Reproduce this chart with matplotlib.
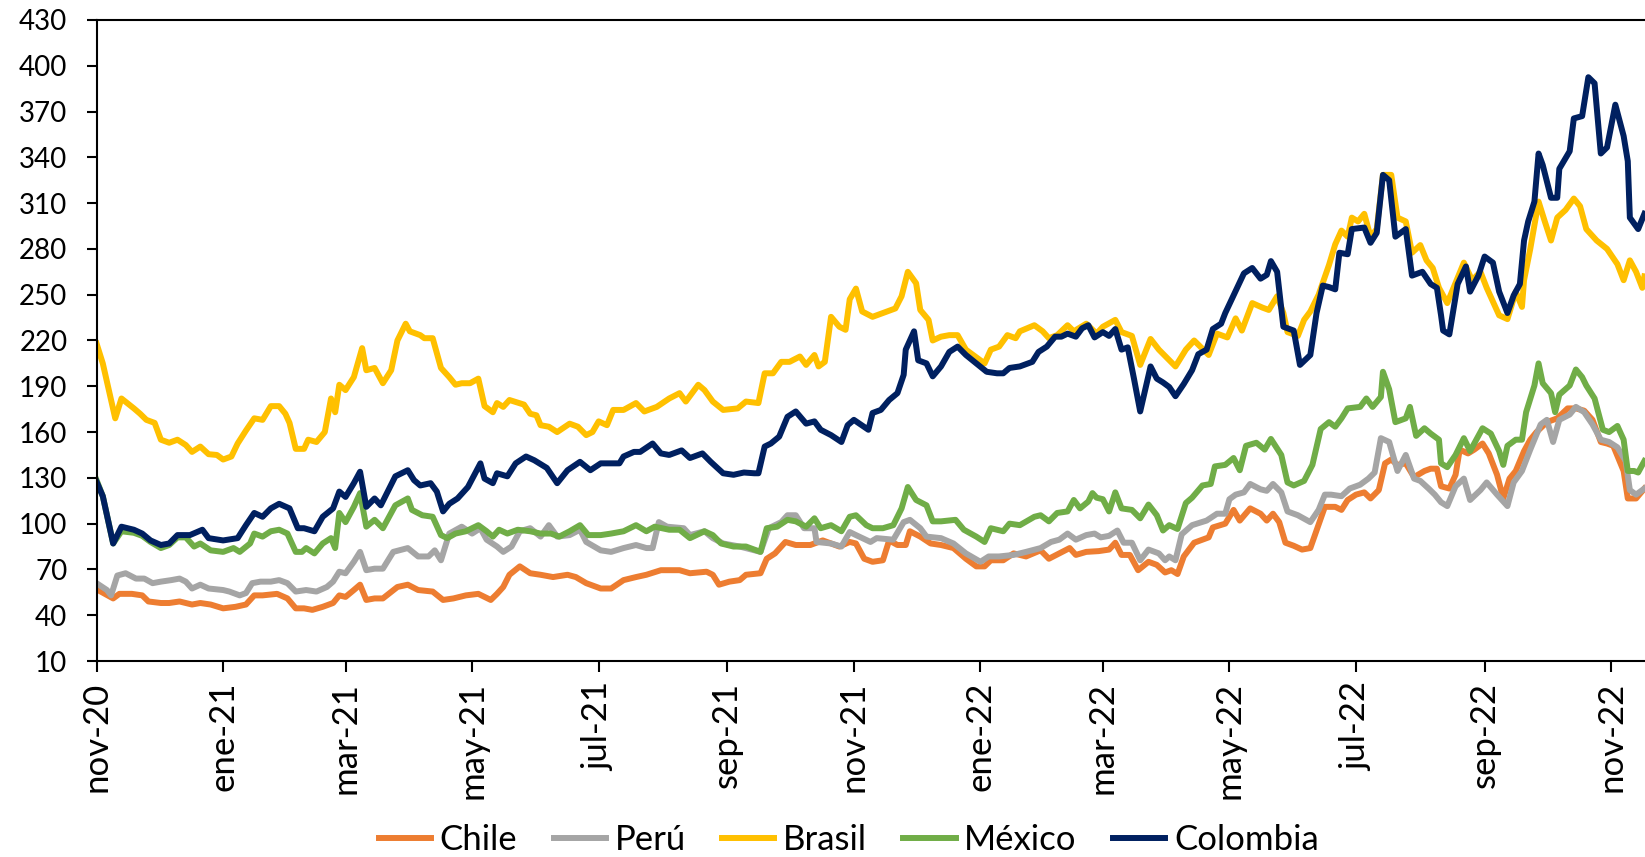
import pandas as pd
import matplotlib
matplotlib.use("Agg")
import matplotlib.pyplot as plt

plt.rcParams['font.family'] = ['Lato', 'DejaVu Sans']

# dias desde el 1-nov-2020 y valor
inicio = pd.Timestamp("2020-11-01")

chile_dias = [0, 8, 11, 17, 22, 25, 31, 35, 40, 46, 50, 55, 61, 67, 72, 76, 80, 87, 92, 96, 100, 104, 109, 114, 117, 120,
              124, 127, 130, 134, 138, 145, 150, 155, 162, 167, 172, 178, 184, 190, 193, 196, 199, 204, 209, 214, 220, 227, 231, 236,
              243, 248, 254, 260, 265, 272, 276, 281, 286, 294, 297, 300, 305, 310, 313, 320, 323, 327, 332, 337, 344, 350, 358, 363,
              366, 370, 374, 379, 382, 386, 390, 392, 397, 402, 407, 413, 419, 424, 428, 431, 437, 442, 448, 455, 459, 464, 469, 472, 477,
              483, 488, 491, 494, 498, 502, 507, 511, 515, 518, 521, 524, 529, 536, 538, 544, 548, 551, 556, 561, 564, 567, 570, 573,
              577, 581, 585, 588, 592, 597, 600, 603, 607, 611, 614, 618, 621, 624, 627, 631, 635, 640, 643, 646, 648, 652, 655, 657,
              661, 664, 668, 671, 675, 678, 681, 684, 688, 691, 694, 699, 704, 709, 713, 717, 721, 725, 728, 731, 736, 738, 742, 746]
chile_vals = [57, 51, 54, 54, 53, 49, 48, 48, 49, 47, 48, 47, 44.5, 45.5, 47, 53, 53, 54, 51, 44.5, 44.5, 43.5, 45.5, 48, 53, 52,
              56.5, 60, 50, 51, 51, 58.5, 60, 56.5, 55.5, 50, 51, 53, 54, 50, 54, 58.5, 66.5, 72, 67.5, 66.5, 65, 66.5, 65, 61,
              57.5, 57.5, 63, 65, 66.5, 69.5, 69.5, 69.5, 67.5, 68.5, 66.5, 60, 62, 63, 66.5, 67.5, 77, 80.5, 88, 86, 86, 89, 85, 88,
              87, 77, 75, 76, 89, 86, 86, 95, 91.5, 87, 86, 84, 77, 72, 72, 76, 76, 80.5, 78.5, 82.5, 77, 80.5, 84, 79.5, 81.5,
              82, 83, 87.5, 79.5, 79.5, 69.5, 75, 73, 68, 69.5, 67, 78.5, 87.5, 91, 97.5, 100, 109, 102, 110, 106.5, 102, 106.5, 101, 87.5,
              85.5, 83, 84, 95.5, 111, 111, 109, 115.5, 119, 120.5, 116.5, 122, 139.5, 142, 138.5, 139.5, 130.5, 134.5, 136, 136, 124.5, 123, 132, 148.5,
              146, 148.5, 152.5, 146, 132, 116.5, 129.5, 134.5, 147.5, 155, 160, 166.5, 169, 175.5, 175.5, 174, 168, 153.5, 152.5, 151, 134.5, 116.5, 116.5, 123]

peru_dias = [0, 5, 7, 10, 14, 19, 23, 27, 31, 36, 40, 43, 46, 50, 54, 61, 64, 69, 72, 75, 79, 84, 88, 92, 96, 101, 106, 111, 114, 117, 120,
             124, 127, 130, 134, 138, 143, 150, 155, 160, 163, 166, 170, 176, 181, 185, 188, 193, 196, 200, 204, 209, 214, 218, 222, 228, 233, 236,
             243, 248, 254, 260, 265, 268, 271, 275, 283, 286, 293, 297, 302, 310, 320, 324, 330, 333, 337, 341, 346, 347, 354, 359, 363,
             366, 373, 376, 384, 389, 392, 397, 400, 407, 413, 419, 426, 430, 435, 442, 448, 455, 460, 464, 468, 472, 477, 481,
             484, 488, 492, 495, 499, 503, 507, 512, 515, 517, 520, 523, 528, 535, 540, 544, 546, 549, 553, 556, 561, 564, 567, 571, 574,
             579, 585, 589, 592, 595, 600, 604, 609, 613, 616, 619, 623, 627, 631, 635, 638, 642, 645, 648, 651, 655, 659, 662, 667,
             670, 675, 680, 683, 687, 691, 696, 699, 702, 705, 710, 713, 717, 721, 725, 729, 733, 737, 739, 742, 746]
peru_vals = [61, 56.5, 53, 66, 67.5, 64, 64, 61, 62, 63, 64, 62, 57.5, 60, 57.5, 56.5, 55.5, 53, 54.5, 61, 62, 62, 63, 61, 55.5, 56.5, 55.5, 58.5, 62, 68.5, 67.5,
             75, 81.5, 69.5, 70.5, 70.5, 81.5, 84, 78.5, 78.5, 82.5, 76, 93.5, 98, 93.5, 97, 89.5, 85, 81.5, 85, 95, 97, 91.5, 99, 91.5, 92.5, 96, 88,
             82.5, 81.5, 84, 86, 84, 84, 101, 98, 97, 92.5, 95, 90.5, 87, 85, 81.5, 97, 101, 105.5, 105.5, 97, 97, 88, 87, 85, 94.5,
             92.5, 88, 90.5, 89.5, 101, 102.5, 97, 91.5, 90.5, 87, 80.5, 75, 78.5, 78.5, 79.5, 81.5, 84, 88, 89.5, 93.5, 89.5, 92.5, 93.5,
             91, 92, 95.5, 87.5, 87.5, 76, 83, 80.5, 76, 78.5, 76, 93, 99, 102, 106.5, 106.5, 116, 119, 120.5, 126, 122.5, 121.5, 126, 120.5, 108,
             105.5, 101, 109, 119, 119, 118, 123, 125.5, 129.5, 133.5, 156, 153.5, 134.5, 145, 129.5, 128, 123, 119, 114, 111.5, 124.5, 129.5, 115.5, 122,
             127, 119, 111.5, 127, 134.5, 148.5, 165, 168, 153.5, 168, 171.5, 176.5, 173, 165, 155, 153.5, 150, 141, 122, 119, 123]

brasil_dias = [0, 3, 9, 12, 18, 21, 24, 28, 31, 35, 39, 43, 46, 50, 54, 58, 61, 65, 68, 72, 76, 80, 84, 88, 91, 93, 96, 100, 102, 106, 110,
               113, 115, 117, 120, 124, 128, 130, 134, 138, 142, 145, 149, 151, 156, 158, 162, 166, 170, 173, 176, 180, 184, 187, 191, 193,
               196, 199, 206, 209, 212, 214, 218, 222, 228, 232, 236, 239, 242, 246, 249, 254, 260, 264, 270, 276, 281, 284, 290, 293, 297,
               302, 309, 313, 319, 322, 326, 330, 334, 339, 342, 346, 348, 351, 354, 358, 361, 363, 366, 369, 374, 379, 385, 388, 391, 395,
               397, 401, 403, 407, 411, 415, 419, 428, 431, 435, 439, 443, 445, 452, 456, 459, 463, 468, 471, 477, 482, 485, 491, 494, 499,
               503, 508, 512, 516, 520, 525, 529, 536, 540, 545, 549, 552, 557, 562, 565, 569, 572, 574, 579, 582, 585, 589, 594, 597, 600,
               603, 605, 608, 611, 614, 617, 620, 624, 627, 631, 634, 638, 641, 644, 647, 651, 654, 659, 663, 667, 670, 676, 680, 684, 687,
               688, 691, 695, 698, 701, 704, 708, 712, 715, 718, 723, 728, 733, 736, 739, 742, 745, 746]
brasil_vals = [218, 205, 169, 182, 175.5, 172, 168, 166, 155, 153, 155, 151.5, 147, 150.5, 145.5, 145, 142, 144, 152.5, 161, 169, 168, 177, 177, 172, 166, 149, 149, 155, 153.5, 160,
               182, 173, 191, 187.5, 196, 215, 200.5, 202, 192, 200.5, 220, 231, 226, 223.5, 221.5, 221.5, 202, 196, 191, 192, 192, 195, 177, 173, 179,
               176.5, 181, 178, 172, 171, 164.5, 163.5, 160, 165.5, 163.5, 158, 160, 167, 164.5, 174.5, 174.5, 179, 173.5, 176.5, 182, 185.5, 180, 191, 187.5, 180,
               174.5, 175.5, 180, 179, 198.5, 198.5, 206, 206, 209.5, 204, 210.5, 203, 206, 235.5, 229, 227, 247, 254, 239, 235.5, 238, 241, 249, 265, 257.5,
               240, 233.5, 220, 222.5, 223.5, 223.5, 214, 205, 214, 216, 223.5, 221.5, 226, 230, 226, 221.5, 223.5, 230, 226, 231, 224.5, 229, 233.5, 225.5, 223,
               204, 221, 214, 208.5, 203, 214, 220, 210.5, 224.5, 222, 234.5, 226.5, 244.5, 241.5, 240, 249, 238, 225.5, 223, 233.5, 239, 250, 269.5, 283, 292,
               288, 300.5, 298, 303, 288, 293, 328.5, 328.5, 300.5, 298, 277.5, 282.5, 272.5, 267.5, 254.5, 244.5, 254.5, 271, 259.5, 265, 254.5, 236.5, 234, 252, 242,
               259.5, 280, 311, 298, 285.5, 300.5, 305.5, 313, 308, 293, 285.5, 280, 270, 259.5, 272.5, 265, 254.5, 262]

mexico_dias = [0, 3, 8, 12, 18, 22, 26, 31, 35, 39, 43, 47, 50, 55, 61, 66, 69, 74, 76, 80, 84, 88, 92, 96, 99, 101, 105, 109, 113, 115, 117, 120,
               124, 127, 130, 134, 138, 144, 150, 152, 157, 162, 166, 169, 173, 178, 184, 188, 191, 194, 198, 203, 209, 214, 219, 223, 228, 233, 237,
               243, 248, 254, 260, 265, 269, 276, 281, 286, 293, 297, 301, 307, 313, 320, 323, 328, 333, 337, 342, 346, 349, 354, 359, 363,
               366, 371, 374, 379, 384, 388, 391, 395, 400, 403, 407, 414, 418, 424, 428, 431, 437, 440, 445, 452, 455, 459, 463, 468, 471, 474, 478, 480,
               482, 485, 488, 491, 494, 499, 503, 507, 511, 514, 517, 521, 525, 528, 533, 537, 539, 544, 548, 551, 554, 559, 563, 566, 571, 574,
               577, 582, 586, 590, 594, 597, 600, 603, 609, 612, 615, 619, 620, 623, 626, 631, 633, 636, 640, 643, 647, 648, 651, 655, 659, 662,
               668, 672, 676, 678, 680, 684, 687, 689, 693, 695, 697, 701, 703, 705, 710, 713, 716, 718, 722, 726, 729, 733, 736, 738, 741, 743, 746]
mexico_vals = [128.5, 118, 87, 95, 94, 92, 88, 84, 86, 91, 91, 85, 87, 82.5, 81.5, 84, 81.5, 87, 93.5, 91.5, 95, 96, 93.5, 81.5, 81.5, 84, 80.5, 87, 90.5, 84, 107, 101,
               111, 120, 98, 102.5, 97, 112, 116.5, 109, 105.5, 104.5, 92.5, 90.5, 93.5, 95, 99, 95, 91.5, 96, 93.5, 96, 95, 93.5, 93.5, 91.5, 95, 99, 92.5,
               92.5, 93.5, 95, 99, 95, 98, 96, 96, 90.5, 95, 92.5, 87, 85, 85, 81.5, 97, 98, 102.5, 101.5, 98, 103.5, 97, 99, 95, 104.5,
               105.5, 99, 97, 97, 99, 110, 124, 115.5, 112, 101.5, 101.5, 102.5, 96, 91.5, 88, 97, 95, 100, 99, 104.5, 105.5, 101.5, 107, 108, 115.5, 110, 114.5, 120,
               117, 116, 108, 120.5, 110, 109, 103.5, 112.5, 105.5, 95.5, 99, 96.5, 113.5, 117, 125, 126, 137.5, 138.5, 143, 135, 151, 153, 148.5, 155.5, 145, 127,
               125, 128, 138.5, 162, 166.5, 163.5, 169, 175.5, 176.5, 182, 176.5, 183, 199.5, 188, 166.5, 169, 176.5, 157.5, 162.5, 159, 155, 139.5, 137, 145, 156, 147.5,
               162.5, 159, 147.5, 138.5, 151, 155, 155, 173, 190.5, 205, 192, 185.5, 173, 184.5, 190.5, 201, 196, 190.5, 182, 161.5, 160, 164, 155, 134.5, 134.5, 133.5, 141]

colombia_dias = [0, 3, 8, 12, 18, 22, 26, 31, 35, 39, 45, 51, 54, 61, 68, 72, 76, 80, 84, 88, 93, 97, 100, 105, 109, 114, 117, 120,
                 124, 127, 130, 134, 137, 144, 150, 153, 156, 161, 164, 167, 170, 174, 179, 185, 187, 191, 193, 198, 202, 207, 211, 217, 222, 227, 233, 238,
                 243, 248, 252, 254, 259, 262, 268, 272, 276, 282, 286, 292, 296, 302, 307, 312, 317, 319, 322, 325, 329, 333, 337, 342, 346, 349, 354, 359, 362,
                 365, 372, 374, 378, 382, 386, 389, 390, 394, 396, 400, 403, 407, 411, 415, 419, 424, 429, 434, 437, 440, 445, 451, 454, 458, 462, 465, 468, 472, 475, 478,
                 481, 485, 488, 491, 494, 497, 500, 503, 508, 511, 514, 517, 520, 524, 528, 531, 535, 538, 542, 544, 549, 553, 557, 561, 564, 566, 569, 572, 577, 580,
                 585, 588, 591, 594, 597, 599, 603, 605, 611, 614, 617, 620, 623, 626, 631, 634, 639, 643, 646, 648, 649, 652, 656, 660, 662, 666, 669, 673, 676, 680,
                 683, 686, 688, 690, 693, 695, 697, 701, 704, 705, 710, 712, 716, 719, 722, 725, 728, 732, 736, 738, 739, 743, 746]
colombia_vals = [127.5, 118, 87, 98, 96, 93.5, 89, 86, 87, 92.5, 92.5, 96, 90.5, 89, 90.5, 99, 107, 104.5, 110, 113, 110, 97, 97, 95, 104.5, 110, 121, 117.5,
                 126.5, 134, 111, 116.5, 112, 131, 135, 128.5, 125, 126.5, 121, 108, 113, 116.5, 124, 139.5, 129.5, 126.5, 133, 131, 139.5, 144, 141.5, 136.5, 126.5, 135, 140.5, 135,
                 139.5, 139.5, 139.5, 144, 147, 147, 152.5, 146, 145, 148, 143, 146, 140.5, 133, 132, 133.5, 133, 133, 150.5, 152.5, 157, 170, 173.5, 165.5, 167, 161.5, 158, 153.5, 164.5,
                 168, 161.5, 172.5, 174.5, 181, 185.5, 197.5, 214, 226, 207, 205, 196.5, 203, 212.5, 216, 210.5, 205, 199.5, 198.5, 198.5, 202, 203, 206, 212.5, 216, 222.5, 222.5, 224.5, 222.5, 228, 230,
                 222, 225.5, 223, 227.5, 214, 215.5, 195, 173.5, 203, 195, 192.5, 189.5, 183.5, 191.5, 200.5, 211, 214, 227.5, 231, 238, 252.5, 264, 267.5, 260.5, 263, 272, 265, 229, 226.5, 204,
                 210.5, 238, 256, 255, 253.5, 277.5, 276.5, 293, 294, 284, 290.5, 328.5, 325, 288, 293, 262.5, 265, 257, 254.5, 236.5, 226.5, 224, 257, 268.5, 252, 262.5, 275, 271, 252, 238,
                 249.5, 257, 285.5, 298, 311, 342.5, 335, 313.5, 313.5, 332.5, 344, 365.5, 367, 392.5, 388.5, 342.5, 346.5, 374.5, 354, 337.5, 300.5, 293, 303]

paises = ["Chile", "Perú", "Brasil", "México", "Colombia"]
colores = ["#ED7D31", "#A5A5A5", "#FFC000", "#70AD47", "#002060"]
dias = [chile_dias, peru_dias, brasil_dias, mexico_dias, colombia_dias]
valores = [chile_vals, peru_vals, brasil_vals, mexico_vals, colombia_vals]

tick_fechas = ["2020-11-01", "2021-01-01", "2021-03-01", "2021-05-01", "2021-07-01", "2021-09-01", "2021-11-01",
               "2022-01-01", "2022-03-01", "2022-05-01", "2022-07-01", "2022-09-01", "2022-11-01"]
tick_labels = ["nov-20", "ene-21", "mar-21", "may-21", "jul-21", "sep-21", "nov-21",
               "ene-22", "mar-22", "may-22", "jul-22", "sep-22", "nov-22"]

fig = plt.figure(figsize=(16.45, 8.57), dpi=100)
ax = fig.add_axes([0.0587, 0.2287, 0.9413, 0.748])

for nombre, d, v, c in zip(paises, dias, valores, colores):
    fechas = inicio + pd.to_timedelta(d, unit="D")
    ax.plot(fechas, v, color=c, lw=4.3, label=nombre, solid_joinstyle="round")

ax.set_xlim(inicio, inicio + pd.Timedelta(days=746.3))
ax.set_ylim(10, 430)
ax.set_yticks(range(10, 431, 30))
ax.set_xticks(pd.to_datetime(tick_fechas))
ax.set_xticklabels(tick_labels)

ax.tick_params(axis="x", labelrotation=90, labelsize=25, length=8, width=1.5, pad=7)
ax.tick_params(axis="y", labelsize=20, length=7, width=1.5, pad=14)
for s in ["left", "bottom", "top"]:
    ax.spines[s].set_linewidth(1.5)
ax.spines["right"].set_visible(False)

fig.legend(loc="center", bbox_to_anchor=(0.516, 0.02), ncol=5, frameon=False, fontsize=25,
           handlelength=1.5, handletextpad=0.25, columnspacing=1.05)

fig.savefig("out.png", dpi=100)
